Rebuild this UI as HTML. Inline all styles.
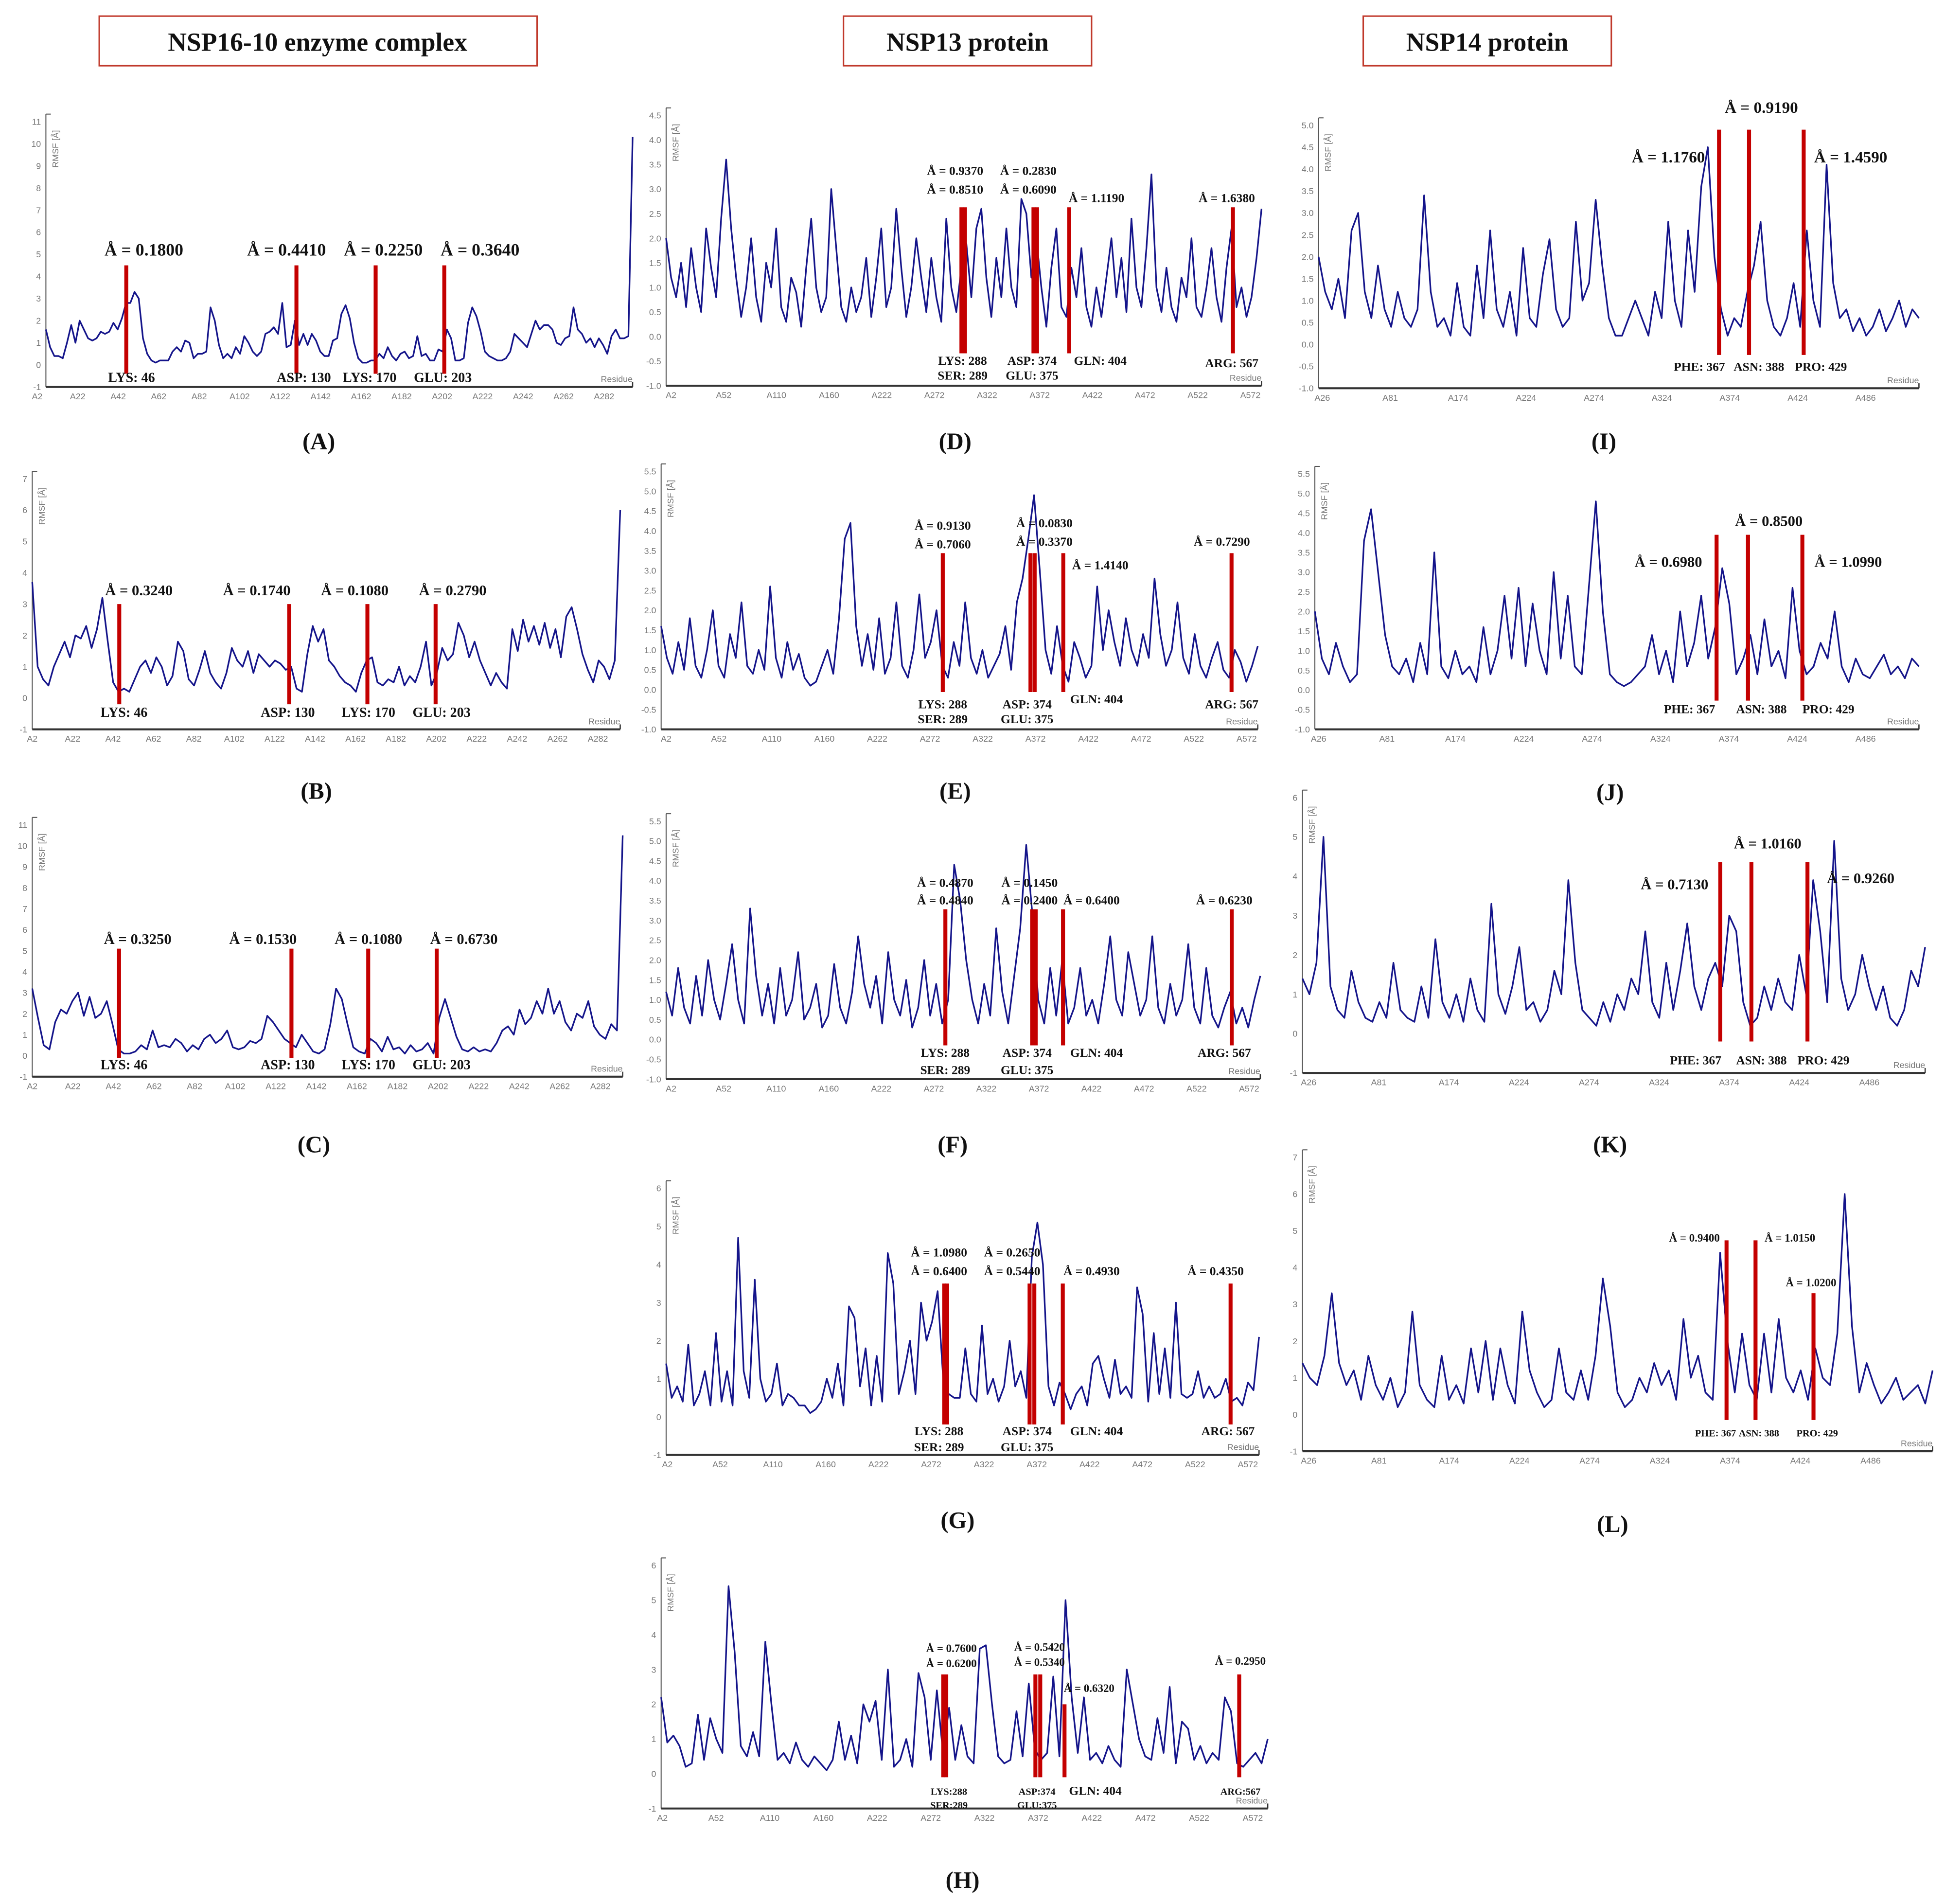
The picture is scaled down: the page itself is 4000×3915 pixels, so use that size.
<!DOCTYPE html>
<html><head><meta charset="utf-8"><style>
html,body{margin:0;padding:0;background:#fff}
svg{display:block}
.tk{font-family:"Liberation Sans",sans-serif;fill:#777;font-size:7px}
.an{font-family:"Liberation Serif",serif;font-weight:bold;fill:#111}
.hd{font-family:"Liberation Serif",serif;font-weight:bold;font-size:21px;fill:#111}
.pl{font-family:"Liberation Serif",serif;font-weight:bold;font-size:19px;fill:#111}
</style></head><body>
<svg id="fig" width="4000" height="3915" viewBox="0 0 1568 1535" preserveAspectRatio="none" xmlns="http://www.w3.org/2000/svg">
<g><rect x="80" y="13" width="353" height="40" fill="none" stroke="#c0392b" stroke-width="1.2"/><text class="hd" x="256" y="41" text-anchor="middle">NSP16-10 enzyme complex</text></g>
<g><rect x="680" y="13" width="200" height="40" fill="none" stroke="#c0392b" stroke-width="1.2"/><text class="hd" x="780" y="41" text-anchor="middle">NSP13 protein</text></g>
<g><rect x="1099" y="13" width="200" height="40" fill="none" stroke="#c0392b" stroke-width="1.2"/><text class="hd" x="1199" y="41" text-anchor="middle">NSP14 protein</text></g>
</svg>
<script>
const xA=['A2','A22','A42','A62','A82','A102','A122','A142','A162','A182','A202','A222','A242','A262','A282'];
const xD=['A2','A52','A110','A160','A222','A272','A322','A372','A422','A472','A522','A572'];
const xI=['A26','A81','A174','A224','A274','A324','A374','A424','A486'];
const serA=[1.6,0.8,0.4,0.4,0.3,1.0,1.8,1.0,2.0,1.6,1.2,1.1,1.2,1.5,1.4,1.5,1.9,1.6,2.1,2.8,2.8,3.3,3.0,1.2,0.5,0.2,0.1,0.2,0.2,0.2,0.6,0.8,0.6,1.1,1.0,0.3,0.5,0.5,0.6,2.6,2.0,0.9,0.3,0.5,0.3,0.8,0.5,1.3,1.0,0.6,0.4,0.6,1.4,1.5,1.7,1.4,2.8,0.8,0.9,2.0,0.9,1.4,0.9,1.4,1.1,0.6,0.4,0.4,1.1,1.2,2.3,2.7,2.1,1.0,0.3,0.1,0.1,0.2,0.2,0.5,0.3,0.8,0.4,0.2,0.5,0.6,0.3,0.4,1.3,0.4,0.5,0.2,0.2,0.7,0.6,1.6,1.2,0.2,0.2,0.3,1.9,2.6,2.2,1.5,0.6,0.4,0.3,0.2,0.2,0.3,0.6,1.4,1.2,1.0,0.8,1.4,2.0,1.6,1.8,1.8,1.6,1.0,0.9,1.2,1.3,2.6,1.6,1.4,1.0,1.2,0.8,1.2,0.9,0.5,1.3,1.6,1.2,1.2,1.3,10.3];
const serB=[3.7,1.0,0.6,0.4,1.0,1.4,1.8,1.3,2.0,1.9,2.3,1.6,2.2,3.2,1.8,0.5,0.2,0.3,0.2,0.6,1.0,1.2,0.8,1.3,1.0,0.4,0.7,1.8,1.5,0.6,0.4,0.9,1.5,0.8,0.5,0.3,0.8,1.6,1.2,1.0,1.5,0.8,1.4,1.2,1.0,1.2,1.1,0.9,1.0,0.3,0.2,1.4,2.3,1.8,2.2,1.2,1.0,0.7,0.5,0.4,0.2,0.8,1.2,1.3,0.5,0.4,0.6,0.5,1.0,0.4,0.7,0.5,1.0,1.8,0.4,0.8,1.6,1.2,1.4,2.4,2.0,1.3,1.8,1.2,0.8,0.4,0.8,0.5,0.3,2.2,1.5,2.5,1.8,2.3,1.7,2.4,1.6,2.2,1.3,2.6,2.9,2.2,1.4,0.9,0.5,1.2,1.0,0.6,1.2,6.0];
const serC=[3.2,1.8,0.5,0.3,1.6,2.2,2.0,2.6,3.0,1.9,2.8,1.8,2.0,2.6,1.5,0.3,0.1,0.1,0.2,0.5,0.3,1.2,0.4,0.5,0.4,0.8,0.6,0.2,0.5,0.3,0.8,1.0,0.6,0.8,1.2,0.4,0.3,0.4,0.7,0.6,0.8,1.9,1.6,1.2,0.8,0.6,0.4,1.0,0.6,0.2,0.1,0.3,1.5,3.2,2.7,1.5,0.4,0.2,0.1,0.8,0.6,0.2,0.9,0.3,0.4,0.1,0.5,0.2,0.3,0.6,0.1,1.8,2.7,1.8,0.9,0.3,0.2,0.4,0.2,0.3,0.2,0.6,1.2,1.4,1.0,2.2,1.5,1.8,2.6,2.0,3.2,2.0,2.6,1.6,1.2,2.0,1.8,2.6,1.4,1.0,0.8,1.5,1.2,10.5];
const serD=[2.0,1.2,0.8,1.5,0.6,1.8,1.0,0.5,2.2,1.4,0.8,2.4,3.6,2.2,1.2,0.4,1.0,2.0,0.8,0.3,1.5,1.0,2.2,0.6,0.3,1.2,0.9,0.2,1.4,2.4,1.0,0.5,0.8,3.0,1.8,0.6,0.3,1.0,0.5,0.8,1.6,0.4,1.2,2.2,0.6,1.0,2.6,1.4,0.4,1.0,2.0,1.2,0.5,1.6,0.8,0.3,2.4,1.0,0.5,1.4,1.9,0.8,2.2,2.6,1.2,0.4,1.6,0.8,2.2,1.0,0.6,2.8,2.5,1.2,2.0,1.0,0.2,1.4,2.2,0.6,0.4,1.4,0.8,1.8,0.6,0.2,1.0,0.4,1.2,2.0,0.8,1.6,0.5,2.4,1.0,0.6,1.8,3.3,1.0,0.5,1.4,0.6,0.3,1.2,0.8,2.0,0.6,0.4,1.0,1.8,0.8,0.3,1.4,2.2,0.6,1.0,0.4,0.8,1.6,2.6];
const serE=[1.6,0.8,0.4,1.2,0.5,1.8,0.6,0.3,1.0,2.0,0.6,0.3,1.4,0.8,2.2,0.6,0.4,1.0,0.5,2.6,0.8,0.3,1.2,0.5,0.9,0.3,0.1,0.2,0.6,1.0,0.4,1.8,3.8,4.2,1.6,0.6,1.4,0.5,1.8,0.4,0.8,2.2,0.6,0.3,1.0,2.4,0.8,1.2,2.0,0.6,0.3,1.2,0.6,2.2,0.8,0.4,1.0,0.3,0.6,0.9,1.6,0.5,2.2,2.8,3.8,4.9,3.0,1.0,0.4,1.6,0.6,0.2,1.2,0.8,0.3,0.6,2.6,1.0,2.0,1.2,0.6,1.8,1.0,0.6,1.4,0.8,2.8,1.4,0.6,1.0,2.2,0.8,0.4,1.4,0.6,0.3,0.8,1.2,0.5,0.3,1.0,0.7,0.2,0.6,1.1];
const serF=[1.2,0.6,1.8,0.8,0.4,1.6,0.6,2.0,1.0,0.5,1.4,2.4,1.0,0.4,3.3,1.6,0.6,1.4,0.4,1.8,0.6,1.0,2.2,0.5,0.8,1.4,0.3,0.6,1.9,0.8,0.4,1.2,2.6,1.4,0.8,1.6,0.4,2.2,1.0,0.6,1.5,0.3,0.8,2.0,0.6,1.4,0.4,1.0,4.4,3.5,2.0,1.0,0.4,1.4,0.6,2.8,1.2,0.4,1.6,2.8,4.9,3.2,1.0,0.4,1.8,0.6,2.0,0.4,0.8,1.8,0.6,1.0,0.4,1.4,2.6,1.0,0.6,2.2,1.4,0.6,1.0,2.6,0.8,0.4,1.4,0.6,1.0,2.4,0.8,0.4,1.8,0.6,0.3,0.8,1.2,0.4,0.8,0.3,1.0,1.6];
const serG=[1.4,0.5,0.8,0.4,1.9,0.3,0.6,1.2,0.3,2.2,0.4,1.2,0.3,4.7,1.2,0.5,3.6,1.0,0.4,0.6,1.4,0.3,0.6,0.5,0.3,0.3,0.1,0.2,0.4,1.0,0.5,1.4,0.3,2.9,2.6,0.8,1.8,0.3,1.6,0.4,4.3,3.5,0.6,1.2,2.0,0.6,3.0,2.0,2.5,3.3,1.0,0.6,0.5,0.5,1.8,0.6,0.4,2.4,0.6,1.0,0.4,0.8,2.0,0.8,1.2,0.5,4.2,5.1,4.0,0.8,0.3,0.9,0.6,0.2,0.6,0.8,0.3,1.4,1.6,1.0,0.5,1.5,0.6,0.8,0.5,3.4,2.7,0.4,2.2,0.6,1.8,0.5,3.0,0.6,0.5,0.6,1.2,0.5,0.8,0.5,0.6,1.0,0.4,0.5,0.3,0.9,0.7,2.1];
const serH=[2.2,0.9,1.1,0.8,0.2,0.3,1.7,0.4,1.6,1.0,0.6,5.4,3.5,0.8,0.5,1.2,0.5,3.8,2.0,0.4,0.6,0.3,0.9,0.4,0.2,0.5,0.3,0.1,0.4,1.5,0.4,1.1,0.3,2.0,1.5,2.1,0.4,3.0,0.2,0.4,1.0,0.2,2.9,2.2,0.4,2.4,0.6,1.9,0.4,1.4,0.5,0.3,3.6,3.7,2.0,0.5,0.3,0.4,1.8,0.5,2.6,0.7,0.4,0.6,2.8,0.5,5.0,2.2,0.6,2.2,0.4,0.6,0.3,0.8,0.4,0.2,3.0,2.0,1.0,0.5,0.4,1.6,0.6,2.5,0.3,1.5,1.3,0.4,0.8,0.3,0.6,0.4,2.2,1.8,0.3,0.2,0.4,0.6,0.3,1.0];
const serI=[2.0,1.2,0.8,1.5,0.6,2.6,3.0,1.2,0.6,1.8,0.8,0.4,1.2,0.6,0.4,0.8,3.4,1.2,0.4,0.6,0.2,1.4,0.4,0.2,1.8,0.6,2.6,0.8,0.4,1.2,0.2,2.2,0.6,0.4,1.6,2.4,0.8,0.4,0.6,2.8,1.0,1.4,3.3,1.8,0.6,0.2,0.2,0.6,1.0,0.6,0.2,1.2,0.6,2.8,1.0,0.4,2.6,1.2,3.6,4.5,2.0,0.8,0.2,0.6,0.4,1.2,1.8,2.8,1.0,0.4,0.2,0.6,1.4,0.4,2.6,1.0,0.4,4.1,1.4,0.6,0.8,0.3,0.6,0.2,0.4,0.8,0.3,0.6,1.0,0.4,0.8,0.6];
const serJ=[2.0,0.8,0.4,1.2,0.6,0.2,0.4,3.8,4.6,3.0,1.4,0.6,0.4,0.8,0.2,1.2,0.4,3.5,0.6,0.3,1.0,0.4,0.6,0.2,1.6,0.4,1.0,2.4,0.8,2.6,0.6,2.2,1.0,0.4,3.0,0.8,2.4,0.6,0.4,2.6,4.8,2.0,0.4,0.2,0.1,0.2,0.4,0.6,1.4,0.4,1.0,0.2,2.0,0.6,1.2,2.4,0.8,1.6,3.1,2.2,0.4,0.8,1.4,0.4,1.8,0.6,1.0,0.3,2.6,1.0,0.4,0.6,1.2,0.8,2.0,0.6,0.2,0.8,0.4,0.3,0.6,0.9,0.4,0.6,0.3,0.8,0.6];
const serK=[1.4,1.0,1.8,5.0,1.2,0.6,0.4,1.6,0.8,0.4,0.3,0.8,0.4,1.8,0.6,0.4,0.3,1.2,0.4,2.4,0.8,0.4,1.0,0.3,1.4,0.6,0.3,3.3,1.0,0.5,1.2,2.2,0.6,0.8,0.3,0.6,1.6,1.0,3.9,1.8,0.6,0.4,0.2,0.8,0.3,1.0,0.6,1.4,1.0,2.6,0.8,0.4,1.8,0.6,1.6,2.8,1.2,0.6,1.4,1.8,1.2,3.0,2.6,0.8,0.2,0.4,1.2,0.6,1.4,0.8,0.6,2.0,1.0,3.9,2.6,0.8,4.9,1.4,0.6,1.0,2.0,1.2,0.6,1.2,0.4,0.2,0.6,1.6,1.2,2.2];
const serL=[1.4,1.0,0.8,1.6,3.3,1.4,0.8,1.2,0.4,1.6,0.8,0.4,1.0,0.2,0.6,2.8,0.8,0.4,0.2,1.6,0.4,0.8,0.3,1.8,0.6,2.0,0.4,1.8,0.8,0.3,2.8,1.2,0.6,0.2,0.4,1.8,0.6,0.4,1.2,0.4,1.6,3.7,2.4,0.6,0.2,0.4,1.0,0.6,1.4,0.8,1.2,0.4,2.6,1.0,1.6,0.6,0.4,4.4,2.0,0.6,2.2,0.8,0.4,2.2,0.6,2.6,1.0,0.6,1.2,0.4,1.8,1.0,0.8,2.2,6.0,2.4,0.6,1.4,0.8,0.3,0.6,1.0,0.4,0.6,0.8,0.3,1.2];

const P=[
 {id:'a',ser:serA,xl:xA,x0:37,x1:510,yT:98,yB:312,lo:-1,hi:11,st:1,fx:0,xs:-7,xe:-23,lt:'(A)',lx:257,ly:362,
  mk:[[0.137,4.5,-0.4],[0.427,4.5,-0.4],[0.562,4.5,-0.4],[0.679,4.5,-0.4]],
  an:[[116,206,'Å = 0.1800',14],[231,206,'Å = 0.4410',14],[309,206,'Å = 0.2250',14],[387,206,'Å = 0.3640',14],[106,308,'LYS: 46',11],[245,308,'ASP: 130',11],[298,308,'LYS: 170',11],[357,308,'GLU: 203',11]]},
 {id:'b',ser:serB,xl:xA,x0:26,x1:500,yT:386,yB:588,lo:-1,hi:7,st:1,fx:0,xs:0,xe:-18,lt:'(B)',lx:255,ly:644,
  mk:[[0.148,3.0,-0.2],[0.437,3.0,-0.2],[0.570,3.0,-0.2],[0.686,3.0,-0.2]],
  an:[[112,480,'Å = 0.3240',12],[207,480,'Å = 0.1740',12],[286,480,'Å = 0.1080',12],[365,480,'Å = 0.2790',12],[100,578,'LYS: 46',11],[232,578,'ASP: 130',11],[297,578,'LYS: 170',11],[356,578,'GLU: 203',11]]},
 {id:'c',ser:serC,xl:xA,x0:26,x1:502,yT:665,yB:868,lo:-1,hi:11,st:1,fx:0,xs:0,xe:-18,lt:'(C)',lx:253,ly:929,
  mk:[[0.147,5.1,-0.1],[0.439,5.1,-0.1],[0.569,5.1,-0.1],[0.685,5.1,-0.1]],
  an:[[111,761,'Å = 0.3250',12],[212,761,'Å = 0.1530',12],[297,761,'Å = 0.1080',12],[374,761,'Å = 0.6730',12],[100,862,'LYS: 46',11],[232,862,'ASP: 130',11],[297,862,'LYS: 170',11],[356,862,'GLU: 203',11]]},
 {id:'d',ser:serD,xl:xD,x0:537,x1:1017,yT:93,yB:311,lo:-1,hi:4.5,st:0.5,fx:1,xs:4,xe:-9,lt:'(D)',lx:770,ly:362,
  mk:[[0.496,2.63,-0.34],[0.502,2.63,-0.34],[0.617,2.63,-0.34],[0.623,2.63,-0.34],[0.677,2.63,-0.34],[0.952,2.63,-0.34]],
  an:[[770,141,'Å = 0.9370',10],[770,156,'Å = 0.8510',10],[829,141,'Å = 0.2830',10],[829,156,'Å = 0.6090',10],[884,163,'Å = 1.1190',10],[989,163,'Å = 1.6380',10],[776,294,'LYS: 288',10],[776,306,'SER: 289',10],[832,294,'ASP: 374',10],[832,306,'GLU: 375',10],[887,294,'GLN: 404',10],[993,296,'ARG: 567',10]]},
 {id:'e',ser:serE,xl:xD,x0:533,x1:1014,yT:380,yB:588,lo:-1,hi:5.5,st:0.5,fx:1,xs:4,xe:-9,lt:'(E)',lx:770,ly:644,
  mk:[[0.472,3.44,-0.06],[0.619,3.44,-0.06],[0.626,3.44,-0.06],[0.674,3.44,-0.06],[0.956,3.44,-0.06]],
  an:[[760,427,'Å = 0.9130',10],[760,442,'Å = 0.7060',10],[842,425,'Å = 0.0830',10],[842,440,'Å = 0.3370',10],[887,459,'Å = 1.4140',10],[985,440,'Å = 0.7290',10],[760,571,'LYS: 288',10],[760,583,'SER: 289',10],[828,571,'ASP: 374',10],[828,583,'GLU: 375',10],[884,567,'GLN: 404',10],[993,571,'ARG: 567',10]]},
 {id:'f',ser:serF,xl:xD,x0:537,x1:1016,yT:662,yB:870,lo:-1,hi:5.5,st:0.5,fx:1,xs:4,xe:-9,lt:'(F)',lx:768,ly:929,
  mk:[[0.470,3.28,-0.15],[0.616,3.28,-0.15],[0.622,3.28,-0.15],[0.668,3.28,-0.15],[0.952,3.28,-0.15]],
  an:[[762,715,'Å = 0.4870',10],[762,729,'Å = 0.4840',10],[830,715,'Å = 0.1450',10],[830,729,'Å = 0.2400',10],[880,729,'Å = 0.6400',10],[987,729,'Å = 0.6230',10],[762,852,'LYS: 288',10],[762,866,'SER: 289',10],[828,852,'ASP: 374',10],[828,866,'GLU: 375',10],[884,852,'GLN: 404',10],[987,852,'ARG: 567',10]]},
 {id:'g',ser:serG,xl:xD,x0:537,x1:1015,yT:958,yB:1173,lo:-1,hi:6,st:1,fx:0,xs:1,xe:-9,lt:'(G)',lx:772,ly:1232,
  mk:[[0.469,3.5,-0.2],[0.474,3.5,-0.2],[0.613,3.5,-0.2],[0.621,3.5,-0.2],[0.669,3.5,-0.2],[0.952,3.5,-0.2]],
  an:[[757,1013,'Å = 1.0980',10],[757,1028,'Å = 0.6400',10],[816,1013,'Å = 0.2650',10],[816,1028,'Å = 0.5440',10],[880,1028,'Å = 0.4930',10],[980,1028,'Å = 0.4350',10],[757,1157,'LYS: 288',10],[757,1170,'SER: 289',10],[828,1157,'ASP: 374',10],[828,1170,'GLU: 375',10],[884,1157,'GLN: 404',10],[990,1157,'ARG: 567',10]]},
 {id:'h',ser:serH,xl:xD,x0:533,x1:1022,yT:1262,yB:1458,lo:-1,hi:6,st:1,fx:0,xs:1,xe:-12,lt:'(H)',lx:776,ly:1522,
  mk:[[0.465,2.86,-0.1],[0.470,2.86,-0.1],[0.617,2.86,-0.1],[0.625,2.86,-0.1],[0.665,2.0,-0.1],[0.953,2.86,-0.1]],
  an:[[767,1332,'Å = 0.7600',9],[767,1344,'Å = 0.6200',9],[838,1331,'Å = 0.5420',9],[838,1343,'Å = 0.5340',9],[878,1364,'Å = 0.6320',9],[1000,1342,'Å = 0.2950',9],[765,1447,'LYS:288',8],[765,1458,'SER:289',8],[836,1447,'ASP:374',8],[836,1458,'GLU:375',8],[883,1447,'GLN: 404',10],[1000,1447,'ARG:567',8]]},
 {id:'i',ser:serI,xl:xI,x0:1063,x1:1547,yT:101,yB:313,lo:-1,hi:5,st:0.5,fx:1,xs:3,xe:-43,lt:'(I)',lx:1293,ly:362,
  mk:[[0.667,4.9,-0.24],[0.717,4.9,-0.24],[0.808,4.9,-0.24]],
  an:[[1345,131,'Å = 1.1760',13],[1420,91,'Å = 0.9190',13],[1492,131,'Å = 1.4590',13],[1370,299,'PHE: 367',10],[1418,299,'ASN: 388',10],[1468,299,'PRO: 429',10]]},
 {id:'j',ser:serJ,xl:xI,x0:1060,x1:1547,yT:382,yB:588,lo:-1,hi:5.5,st:0.5,fx:1,xs:3,xe:-43,lt:'(J)',lx:1298,ly:645,
  mk:[[0.665,3.95,-0.27],[0.717,3.95,-0.27],[0.807,3.95,-0.27]],
  an:[[1345,457,'Å = 0.6980',12],[1426,424,'Å = 0.8500',12],[1490,457,'Å = 1.0990',12],[1362,575,'PHE: 367',10],[1420,575,'ASN: 388',10],[1474,575,'PRO: 429',10]]},
 {id:'k',ser:serK,xl:xI,x0:1050,x1:1552,yT:643,yB:865,lo:-1,hi:6,st:1,fx:0,xs:5,xe:-45,lt:'(K)',lx:1298,ly:929,
  mk:[[0.671,4.36,-0.2],[0.721,4.36,-0.2],[0.811,4.36,-0.2]],
  an:[[1350,717,'Å = 0.7130',12],[1425,684,'Å = 1.0160',12],[1500,712,'Å = 0.9260',12],[1367,858,'PHE: 367',10],[1420,858,'ASN: 388',10],[1470,858,'PRO: 429',10]]},
 {id:'l',ser:serL,xl:xI,x0:1050,x1:1558,yT:933,yB:1170,lo:-1,hi:7,st:1,fx:0,xs:5,xe:-50,lt:'(L)',lx:1300,ly:1235,
  mk:[[0.673,4.74,-0.15],[0.719,4.74,-0.15],[0.811,3.3,-0.15]],
  an:[[1366,1001,'Å = 0.9400',9],[1443,1001,'Å = 1.0150',9],[1460,1037,'Å = 1.0200',9],[1383,1158,'PHE: 367',8],[1418,1158,'ASN: 388',8],[1465,1158,'PRO: 429',8]]}
];
const NS='http://www.w3.org/2000/svg';
const fig=document.getElementById('fig');
function mk(tag,at,parent){const e=document.createElementNS(NS,tag);for(const k in at)e.setAttribute(k,at[k]);parent.appendChild(e);return e;}
P.forEach(p=>{
  const g=mk('g',{},fig);
  
  
  const ys=v=>p.yB-(v-p.lo)/(p.hi-p.lo)*(p.yB-p.yT);
  const xs=f=>p.x0+f*(p.x1-p.x0);
  // y axis
  const ya=mk('line',{x1:p.x0,y1:p.yT-6,x2:p.x0,y2:p.yB,stroke:'#555','stroke-width':0.8},g);
  
  
  mk('line',{x1:p.x0,y1:p.yT-6,x2:p.x0+4,y2:p.yT-6,stroke:'#555','stroke-width':0.8},g);
  for(let v=p.lo;v<=p.hi+1e-9;v+=p.st){
    const t=mk('text',{x:p.x0-4,y:ys(v)+2.5,'text-anchor':'end',class:'tk'},g);
    t.textContent=p.fx?v.toFixed(1):String(Math.round(v));
    
    
  }
  const yt=mk('text',{x:0,y:0,class:'tk','font-size':'8',transform:`translate(${p.x0+10},${p.yT+22}) rotate(-90)`,'text-anchor':'middle'},g);
  yt.textContent='RMSF [Å]';
  
  
  // x axis
  const xa=mk('line',{x1:p.x0,y1:p.yB,x2:p.x1,y2:p.yB,stroke:'#333','stroke-width':1.6},g);
  
  
  mk('line',{x1:p.x1,y1:p.yB-4,x2:p.x1,y2:p.yB,stroke:'#333','stroke-width':1},g);
  const n=p.xl.length, a=p.x0+p.xs, b=p.x1+p.xe;
  p.xl.forEach((l,i)=>{
    const x=a+(b-a)*i/(n-1);
    const t=mk('text',{x:x,y:p.yB+10,'text-anchor':'middle',class:'tk'},g);
    t.textContent=l;
    
    
  });
  const rt=mk('text',{x:p.x1,y:p.yB-4,'text-anchor':'end',class:'tk','font-size':'9'},g);
  rt.textContent='Residue';
  
  
  // series
  const pts=p.ser.map((v,i)=>xs(i/(p.ser.length-1)).toFixed(2)+','+ys(v).toFixed(2)).join(' ');
  const pl=mk('polyline',{points:pts,fill:'none',stroke:'#14148a','stroke-width':1.3,'stroke-linejoin':'round'},g);
  
  
  // markers
  p.mk.forEach(m=>{
    const r=mk('line',{x1:xs(m[0]),x2:xs(m[0]),y1:ys(m[1]),y2:ys(m[2]),stroke:'#c40000','stroke-width':3.2},g);
    
    
  });
  p.an.forEach(a=>{
    const t=mk('text',{x:a[0],y:a[1],'text-anchor':'middle',class:'an','font-size':a[3]},g);
    t.textContent=a[2];
    
    
  });
  const lt=mk('text',{x:p.lx,y:p.ly,'text-anchor':'middle',class:'pl'},g);
  lt.textContent=p.lt;
  
  
});
</script>
</body></html>
